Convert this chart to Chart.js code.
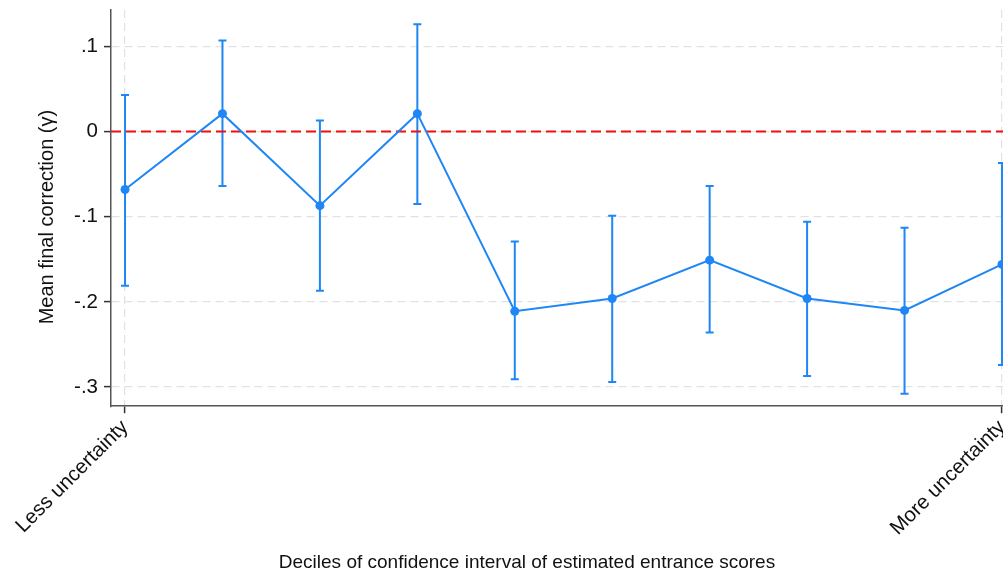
<!DOCTYPE html>
<html>
<head>
<meta charset="utf-8">
<script src="https://cdn.jsdelivr.net/npm/chart.js@4"></script>
<style>
  html, body { margin: 0; padding: 0; background: #fff; overflow: hidden; }
  #wrap { width: 1054px; height: 581px; }
</style>
</head>
<body>
<div id="wrap"><canvas id="c" width="1054" height="581"></canvas></div>
<script>
// Deciles of the confidence-interval width (1 = least, 10 = most uncertainty)
const deciles = [1, 2, 3, 4, 5, 6, 7, 8, 9, 10];
// Mean final correction per decile, with 95% CI bounds
const means  = [-0.068, 0.021, -0.087, 0.021, -0.211, -0.196, -0.151, -0.196, -0.210, -0.156];
const ciLow  = [-0.181, -0.064, -0.187, -0.085, -0.291, -0.294, -0.236, -0.287, -0.308, -0.274];
const ciHigh = [0.043, 0.107, 0.013, 0.126, -0.129, -0.099, -0.064, -0.106, -0.113, -0.037];

// Axis ticks
const yTickValues = [-0.3, -0.2, -0.1, 0, 0.1];
const yTickLabels = ['-.3', '-.2', '-.1', '0', '.1'];
const xTickValues = [1, 10];
const xTickLabels = ['Less uncertainty', 'More uncertainty'];
const yTitle = 'Mean final correction (γ)';

const BLUE = '#1f87f5';
const FONT = 'Liberation Sans, Arial, Helvetica, sans-serif';

const xMin = 0.856, xMax = 10.144;

// Range caps drawn behind the markers
const errorBars = {
  id: 'errorBars',
  beforeDatasetsDraw(chart) {
    const { ctx, scales: { x, y } } = chart;
    ctx.save();
    ctx.strokeStyle = BLUE;
    ctx.lineWidth = 2;
    const cap = 4;
    deciles.forEach((d, i) => {
      const px = x.getPixelForValue(d);
      const lo = y.getPixelForValue(ciLow[i]);
      const hi = y.getPixelForValue(ciHigh[i]);
      ctx.beginPath();
      ctx.moveTo(px, lo); ctx.lineTo(px, hi);
      ctx.moveTo(px - cap, lo); ctx.lineTo(px + cap, lo);
      ctx.moveTo(px - cap, hi); ctx.lineTo(px + cap, hi);
      ctx.stroke();
    });
    ctx.restore();
  }
};

// Vertical axis title, sitting slightly below the plot's mid-height
const yAxisTitle = {
  id: 'yAxisTitle',
  afterDraw(chart) {
    const { ctx, chartArea } = chart;
    const cy = (chartArea.top + chartArea.bottom) / 2 + 9;
    ctx.save();
    ctx.translate(47, cy);
    ctx.rotate(-Math.PI / 2);
    ctx.fillStyle = '#111';
    ctx.font = '20px ' + FONT;
    ctx.textAlign = 'center';
    ctx.textBaseline = 'middle';
    ctx.fillText(yTitle, 0, 0);
    ctx.restore();
  }
};

new Chart(document.getElementById('c'), {
  type: 'scatter',
  data: {
    datasets: [
      {
        label: 'zero',
        data: [{ x: xMin, y: 0 }, { x: xMax, y: 0 }],
        showLine: true,
        borderColor: '#ee1111',
        borderWidth: 2,
        borderDash: [10, 5],
        pointRadius: 0,
        order: 2
      },
      {
        label: 'mean',
        data: deciles.map((d, i) => ({ x: d, y: means[i] })),
        showLine: true,
        borderColor: BLUE,
        backgroundColor: BLUE,
        borderWidth: 2,
        pointRadius: 4.5,
        pointBorderWidth: 0,
        pointHoverRadius: 4.5,
        order: 1
      }
    ]
  },
  options: {
    responsive: false,
    animation: false,
    devicePixelRatio: 1,
    layout: { padding: { top: 10, right: 38, left: 38, bottom: 0 } },
    plugins: {
      legend: { display: false },
      tooltip: { enabled: false },
      title: {
        display: true,
        position: 'bottom',
        text: 'Deciles of confidence interval of estimated entrance scores',
        color: '#111',
        font: { family: FONT, size: 19, weight: 'normal', lineHeight: 1.2 },
        padding: { top: 0, bottom: 7 }
      }
    },
    scales: {
      x: {
        type: 'linear',
        min: xMin,
        max: xMax,
        afterBuildTicks(s) { s.ticks = xTickValues.map(v => ({ value: v })); },
        afterFit(s) { s.height = 145; },
        ticks: {
          autoSkip: false,
          minRotation: 45,
          maxRotation: 45,
          padding: 2,
          color: '#111',
          font: { family: FONT, size: 20.5 },
          callback: (v) => xTickLabels[xTickValues.indexOf(v)]
        },
        grid: {
          color: '#e2e2e2',
          lineWidth: 1.2,
          tickLength: 7,
          tickColor: '#333',
          tickWidth: 1.5
        },
        border: { display: true, color: '#555', width: 1.5, dash: [8, 5] }
      },
      y: {
        type: 'linear',
        min: -0.3225,
        max: 0.1427,
        afterBuildTicks(s) { s.ticks = yTickValues.map(v => ({ value: v })); },
        afterFit(s) { s.width = 73; s.paddingTop = 0; s.paddingBottom = 0; },
        ticks: {
          padding: 6,
          color: '#111',
          font: { family: FONT, size: 20.5 },
          callback: (v) => yTickLabels[yTickValues.indexOf(v)]
        },
        grid: {
          color: '#e2e2e2',
          lineWidth: 1.2,
          tickLength: 7,
          tickColor: '#333',
          tickWidth: 1.5
        },
        border: { display: true, color: '#555', width: 1.5, dash: [8, 5] }
      }
    }
  },
  plugins: [errorBars, yAxisTitle]
});
</script>
</body>
</html>
